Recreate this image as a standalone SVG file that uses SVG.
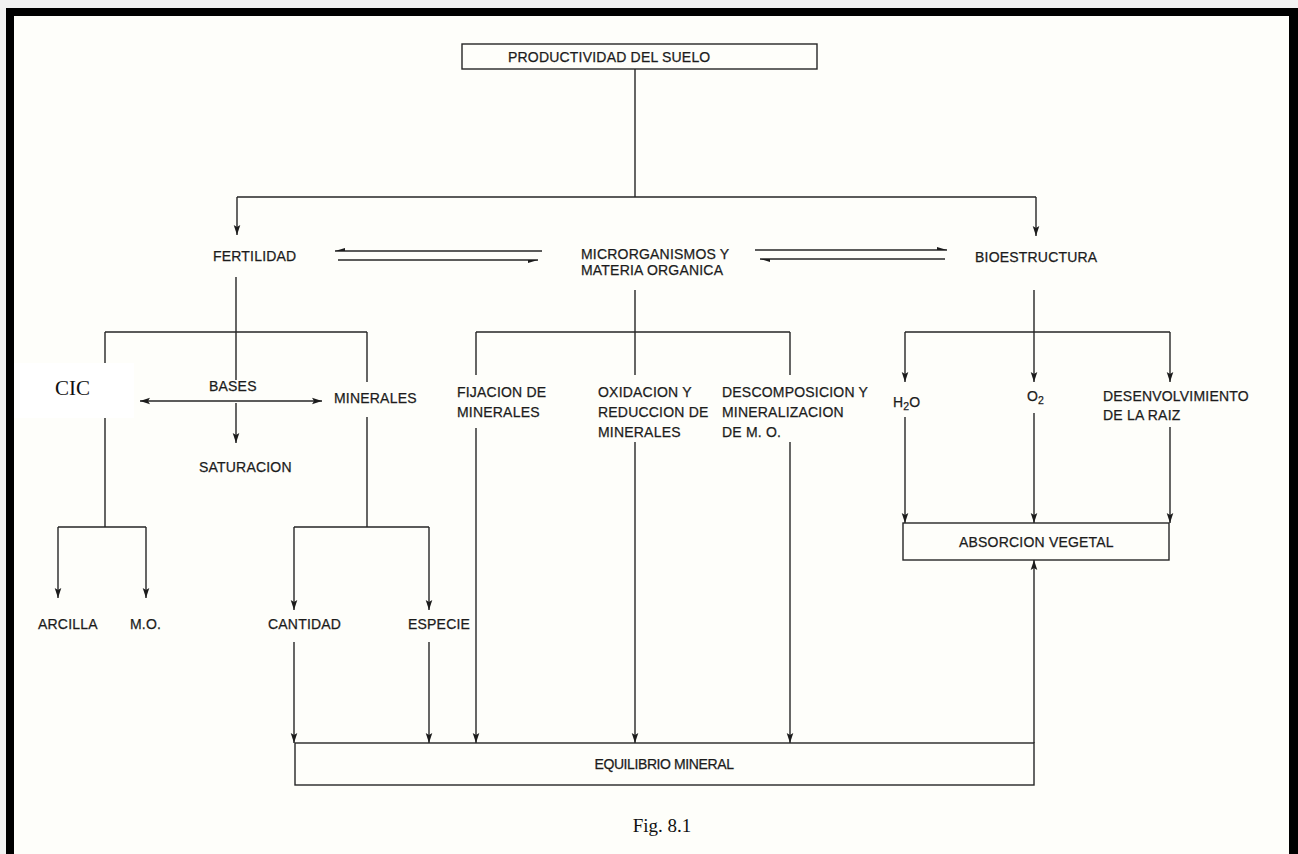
<svg xmlns="http://www.w3.org/2000/svg" width="1298" height="854" viewBox="0 0 1298 854">
<style>
.t{font-family:"Liberation Sans",Arial,sans-serif;font-size:14px;fill:#1c1c1c;stroke:#1c1c1c;stroke-width:0.25px;letter-spacing:0.2px}
.s{font-family:"Liberation Serif","Times New Roman",serif;fill:#111}
.ln{stroke:#262626;stroke-width:1.4;fill:none}
.ar{stroke:#262626;stroke-width:1.4;fill:none;marker-end:url(#ah)}
.box{stroke:#262626;stroke-width:1.4;fill:none}
</style>
<defs>
<marker id="ah" markerUnits="userSpaceOnUse" markerWidth="12" markerHeight="10" refX="0" refY="0" viewBox="-11 -5 12 10" orient="auto">
<path d="M0,0 L-10,-3.3 L-8,0 L-10,3.3 Z" fill="#1c1c1c"/>
</marker>
<marker id="ahs" markerUnits="userSpaceOnUse" markerWidth="12" markerHeight="10" refX="0" refY="0" viewBox="-11 -5 12 10" orient="auto-start-reverse">
<path d="M0,0 L-10,-3.3 L-8,0 L-10,3.3 Z" fill="#1c1c1c"/>
</marker>
<marker id="hp" markerUnits="userSpaceOnUse" markerWidth="12" markerHeight="8" refX="0" refY="0" viewBox="-11 -4 12 8" orient="auto">
<path d="M0,0 L-10,3 L-10,0 Z" fill="#1c1c1c"/>
</marker>
<marker id="hn" markerUnits="userSpaceOnUse" markerWidth="12" markerHeight="8" refX="0" refY="0" viewBox="-11 -4 12 8" orient="auto">
<path d="M0,0 L-10,-3 L-10,0 Z" fill="#1c1c1c"/>
</marker>
</defs>
<rect x="0" y="0" width="1298" height="854" fill="#f2f2f2"/>
<rect x="6" y="8" width="1292" height="846" fill="#000"/>
<rect x="14" y="16" width="1275" height="838" fill="#fefefa"/>

<g id="connectors">
<path class="ln" d="M635,69 V197 M237,197 H1036"/>
<path class="ar" d="M237,197 V235"/>
<path class="ar" d="M1036,197 V236"/>
<path class="ln" d="M542,251 H335" marker-end="url(#hp)"/>
<path class="ln" d="M338,260 H538" marker-end="url(#hp)"/>
<path class="ln" d="M755,250 H947" marker-end="url(#hn)"/>
<path class="ln" d="M945,259 H760" marker-end="url(#hn)"/>
<path class="ln" d="M236,277 V380 M105,332 H367 M105,332 V527 M367,332 V382 M367,417 V527"/>
<path class="ln" d="M140,401 H322" marker-start="url(#ahs)" marker-end="url(#ah)"/>
<path class="ar" d="M236,403 V443"/>
<path class="ln" d="M58,527 H146 M294,527 H429"/>
<path class="ar" d="M58,527 V598"/>
<path class="ar" d="M146,527 V598"/>
<path class="ar" d="M294,527 V610"/>
<path class="ar" d="M429,527 V610"/>
<path class="ar" d="M294,642 V743"/>
<path class="ar" d="M429,642 V743"/>
<path class="ln" d="M635,290 V375 M476,332 H790 M476,332 V375 M790,332 V375"/>
<path class="ar" d="M476,428 V743"/>
<path class="ar" d="M635,442 V743"/>
<path class="ar" d="M790,442 V743"/>
<path class="ln" d="M1034,290 V332 M905,332 H1170"/>
<path class="ar" d="M905,332 V382"/>
<path class="ar" d="M1034,332 V382"/>
<path class="ar" d="M1170,332 V382"/>
<path class="ar" d="M905,417 V523"/>
<path class="ar" d="M1034,413 V523"/>
<path class="ar" d="M1170,427 V523"/>
<path class="ar" d="M1034,743 V560"/>
</g>

<rect x="14" y="363" width="120" height="55" fill="#ffffff"/>

<g id="n-productividad"><rect class="box" x="462" y="44" width="355" height="25"/><text class="t" x="508" y="62">PRODUCTIVIDAD DEL SUELO</text></g>
<g id="n-fertilidad"><text class="t" x="213" y="261">FERTILIDAD</text></g>
<g id="n-micro"><text class="t" x="581" y="259">MICRORGANISMOS Y</text><text class="t" x="581" y="275">MATERIA ORGANICA</text></g>
<g id="n-bioestructura"><text class="t" x="975" y="262">BIOESTRUCTURA</text></g>
<g id="n-cic"><text class="s" x="55" y="395" font-size="21">CIC</text></g>
<g id="n-bases"><text class="t" x="209" y="391">BASES</text></g>
<g id="n-minerales"><text class="t" x="334" y="403">MINERALES</text></g>
<g id="n-saturacion"><text class="t" x="199" y="472">SATURACION</text></g>
<g id="n-arcilla"><text class="t" x="38" y="629">ARCILLA</text></g>
<g id="n-mo"><text class="t" x="130" y="629">M.O.</text></g>
<g id="n-cantidad"><text class="t" x="268" y="629">CANTIDAD</text></g>
<g id="n-especie"><text class="t" x="408" y="629">ESPECIE</text></g>
<g id="n-fijacion"><text class="t" x="457" y="397">FIJACION DE</text><text class="t" x="457" y="417">MINERALES</text></g>
<g id="n-oxidacion"><text class="t" x="598" y="397">OXIDACION Y</text><text class="t" x="598" y="417">REDUCCION DE</text><text class="t" x="598" y="437">MINERALES</text></g>
<g id="n-descomposicion"><text class="t" x="722" y="397">DESCOMPOSICION Y</text><text class="t" x="722" y="417">MINERALIZACION</text><text class="t" x="722" y="437">DE M. O.</text></g>
<g id="n-h2o"><text class="t" x="893" y="407">H<tspan font-size="10.5" dy="3">2</tspan><tspan dy="-3">O</tspan></text></g>
<g id="n-o2"><text class="t" x="1027" y="401">O<tspan font-size="10.5" dy="3">2</tspan></text></g>
<g id="n-desenvolvimiento"><text class="t" x="1103" y="401">DESENVOLVIMIENTO</text><text class="t" x="1103" y="420">DE LA RAIZ</text></g>
<g id="n-absorcion"><rect class="box" x="903" y="523" width="266" height="37"/><text class="t" x="959" y="547">ABSORCION VEGETAL</text></g>
<g id="n-equilibrio"><rect class="box" x="295" y="743" width="739" height="42"/><text class="t" x="664" y="769" text-anchor="middle" font-size="12.5" style="letter-spacing:-0.4px">EQUILIBRIO MINERAL</text></g>
<g id="caption"><text class="s" x="662" y="832" font-size="19" text-anchor="middle">Fig. 8.1</text></g>
</svg>
